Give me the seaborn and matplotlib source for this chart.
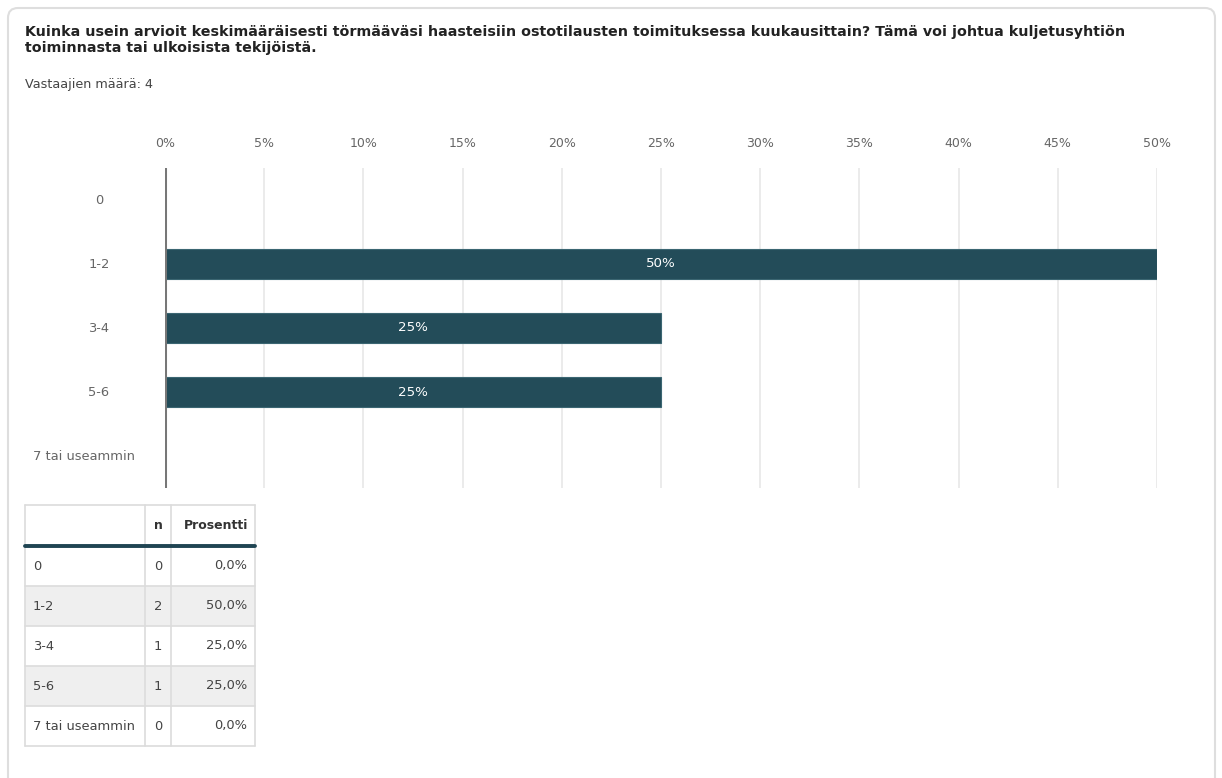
import matplotlib
matplotlib.use("Agg")
import matplotlib.pyplot as plt
from matplotlib.patches import FancyBboxPatch, Rectangle
import seaborn as sns
import pandas as pd

title = ("Kuinka usein arvioit keskimääräisesti törmääväsi haasteisiin ostotilausten toimituksessa kuukausittain? "
         "Tämä voi johtua kuljetusyhtiön\ntoiminnasta tai ulkoisista tekijöistä.")
subtitle = "Vastaajien määrä: 4"
categories = ["0", "1-2", "3-4", "5-6", "7 tai useammin"]
counts = [0, 2, 1, 1, 0]
percents = [0, 50, 25, 25, 0]
pct_labels = ["0,0%", "50,0%", "25,0%", "25,0%", "0,0%"]
xticks = [0, 5, 10, 15, 20, 25, 30, 35, 40, 45, 50]
header = ["", "n", "Prosentti"]

BAR = "#234c59"

sns.set_theme(style="white")
plt.rcParams["font.family"] = ["DejaVu Sans"]

W, H = 1222, 778
fig = plt.figure(figsize=(W / 100, H / 100), dpi=100)

# overlay in pixel coordinates
bg = fig.add_axes([0, 0, 1, 1], zorder=0)
bg.set_xlim(0, W)
bg.set_ylim(H, 0)
bg.axis("off")
bg.add_patch(FancyBboxPatch((8, 8), 1207, 800, boxstyle="round,pad=0,rounding_size=10",
                            facecolor="white", edgecolor="#dedede", linewidth=1.5))
bg.text(25, 25, title, fontsize=10.3, fontweight="bold", color="#222222", va="top", ha="left",
        linespacing=1.18)
bg.text(25, 84, subtitle, fontsize=9.2, color="#444444", va="center", ha="left")

# main chart
df = pd.DataFrame({"cat": categories, "pct": percents})
ax = fig.add_axes([165 / W, 1 - 488 / H, (1157 - 165) / W, 320 / H], zorder=2)
ax.patch.set_alpha(0)
sns.barplot(data=df, x="pct", y="cat", color=BAR, saturation=1, width=0.47,
            edgecolor="#3b6672", linewidth=0.8, ax=ax, zorder=3)
ax.set_xlim(0, 50)
ax.set_ylim(4.5, -0.5)
ax.set_xticks(xticks)
ax.set_xticklabels([f"{t}%" for t in xticks], fontsize=9.0, color="#666666")
ax.xaxis.tick_top()
ax.tick_params(axis="x", length=0, pad=13)
ax.set_yticks(range(len(categories)))
ax.set_yticklabels([])
ax.tick_params(axis="y", length=0)
ax.set_xlabel("")
ax.set_ylabel("")
for s in ax.spines.values():
    s.set_visible(False)
for t in xticks[1:]:
    ax.axvline(t, color="#e8e8e8", linewidth=1.2, zorder=1)
ax.axvline(0, color="#777777", linewidth=2.2, zorder=4)
for i, p in enumerate(percents):
    if p > 0:
        ax.text(p / 2, i, f"{p}%", color="white", ha="center", va="center", fontsize=9.6, zorder=5)

# category labels (centered at ~x=99 px; long ones start at the left margin)
renderer = fig.canvas.get_renderer()
for i, cat in enumerate(categories):
    y_px = H - ax.transData.transform((0, i))[1]
    t = bg.text(99, y_px, cat, fontsize=9.4, color="#666666", ha="center", va="center")
    w = t.get_window_extent(renderer).width
    if 99 - w / 2 < 60:
        t.set_x(33)
        t.set_ha("left")

# table
col_x = [25, 145, 171, 255]
row_y = [505, 546, 586, 626, 666, 706, 746]
grid = "#dcdcdc"
for r in range(len(categories)):
    y0 = row_y[r + 1]
    fc = "#efefef" if r % 2 == 1 else "white"
    bg.add_patch(Rectangle((col_x[0], y0), col_x[-1] - col_x[0], row_y[r + 2] - y0,
                           facecolor=fc, edgecolor="none", zorder=1))
for y in row_y:
    bg.plot([col_x[0], col_x[-1]], [y, y], color=grid, linewidth=1.2, zorder=2)
for x in col_x:
    bg.plot([x, x], [row_y[0], row_y[-1]], color=grid, linewidth=1.2, zorder=2)
bg.plot([col_x[0], col_x[-1]], [row_y[1], row_y[1]], color="#1f4452", linewidth=2.8, zorder=3)
hy = (row_y[0] + row_y[1]) / 2
bg.text((col_x[1] + col_x[2]) / 2, hy, header[1], fontsize=9.0, fontweight="bold", color="#333333",
        ha="center", va="center")
bg.text(col_x[3] - 7, hy, header[2], fontsize=9.0, fontweight="bold", color="#333333",
        ha="right", va="center")
for r, cat in enumerate(categories):
    cy = (row_y[r + 1] + row_y[r + 2]) / 2
    bg.text(col_x[0] + 8, cy, cat, fontsize=9.4, color="#444444", ha="left", va="center", zorder=4)
    bg.text((col_x[1] + col_x[2]) / 2, cy, str(counts[r]), fontsize=9.4, color="#444444",
            ha="center", va="center", zorder=4)
    bg.text(col_x[3] - 8, cy, pct_labels[r], fontsize=9.4, color="#444444", ha="right",
            va="center", zorder=4)

fig.savefig("out.png", dpi=100, facecolor="white")
